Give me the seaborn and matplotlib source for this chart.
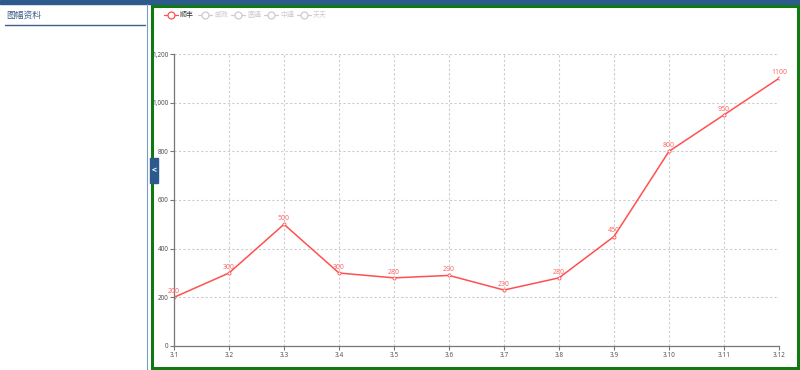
import matplotlib
matplotlib.use("Agg")
import matplotlib.pyplot as plt
import seaborn as sns
import pandas as pd
from matplotlib.lines import Line2D
from matplotlib.patches import Rectangle
from matplotlib.ticker import FuncFormatter

categories = ["3.1", "3.2", "3.3", "3.4", "3.5", "3.6", "3.7", "3.8", "3.9", "3.10", "3.11", "3.12"]
sf_values = [200, 300, 500, 300, 280, 290, 230, 280, 450, 800, 950, 1100]
legend_names = ["顺丰", "邮政", "圆通", "中通", "天天"]
y_ticks = [0, 200, 400, 600, 800, 1000, 1200]
sidebar_title = "图幅资料"

sns.set_theme(style="white")
plt.rcParams['font.family'] = ['Noto Sans CJK SC', 'DejaVu Sans']

RED = "#ff5050"
fig = plt.figure(figsize=(8, 3.7), dpi=100)
W, H = 800, 370

def fx(px):
    return px / W

def fy(py):
    return 1 - py / H

# page decorations
fig.patches.append(Rectangle((0, fy(4)), 1, 4 / H, transform=fig.transFigure,
                             color="#2d5a8c", zorder=-2))
fig.patches.append(Rectangle((fx(151.5), fy(367.5)), (797.5 - 151.5) / W, (367.5 - 5.5) / H,
                             transform=fig.transFigure, fill=False, edgecolor="#0f7a12",
                             linewidth=2.2, zorder=-1))
fig.lines.append(Line2D([fx(147), fx(147)], [fy(4), fy(370)], transform=fig.transFigure,
                        color="#7d9cc4", linewidth=0.8))
fig.text(fx(6), fy(15), sidebar_title, fontsize=6.3, color="#3f5f8a", va="center", ha="left")
fig.lines.append(Line2D([fx(5), fx(145)], [fy(24.5), fy(24.5)], transform=fig.transFigure,
                        color="#3f5f8a", linewidth=1.0))
# collapse button
fig.patches.append(Rectangle((fx(150), fy(183)), 8 / W, 25 / H, transform=fig.transFigure,
                             color="#2d5a8c", zorder=6))
fig.text(fx(154), fy(170.5), "<", fontsize=6, color="white", ha="center", va="center",
         zorder=7, fontweight="bold")

# legend
leg_x = [171, 205, 238, 271, 304]
for i, name in enumerate(legend_names):
    c = RED if i == 0 else "#cccccc"
    tc = "#333333" if i == 0 else "#cccccc"
    cx = leg_x[i]
    fig.lines.append(Line2D([fx(cx - 7), fx(cx + 7)], [fy(15), fy(15)], transform=fig.transFigure,
                            color=c, linewidth=0.9))
    fig.lines.append(Line2D([fx(cx)], [fy(15)], transform=fig.transFigure, marker="o",
                            markersize=5, markerfacecolor="white", markeredgecolor=c,
                            markeredgewidth=0.9, linestyle="none"))
    fig.text(fx(cx + 9), fy(15), name, fontsize=5, color=tc, va="center", ha="left")

# chart
ax = fig.add_axes([fx(174), fy(346), (779 - 174) / W, (346 - 54) / H])
df = pd.DataFrame({"day": categories, "value": sf_values})
df["pos"] = range(len(categories))
sns.lineplot(data=df, x="pos", y="value", ax=ax, color=RED, linewidth=1.1,
             marker="o", markersize=2.2, markerfacecolor="white", markeredgecolor=RED,
             markeredgewidth=0.6)
for x, v in zip(df["pos"], df["value"]):
    ax.annotate(str(v), (x, v), xytext=(0, 1.5), textcoords="offset points",
                ha="center", va="bottom", fontsize=5, color="#ff6b6b",
                family=["Noto Sans", "DejaVu Sans"])

ax.set_xlim(0, len(categories) - 1)
ax.set_ylim(0, 1200)
ax.set_xticks(df["pos"])
ax.set_xticklabels(categories)
ax.set_yticks(y_ticks)
ax.yaxis.set_major_formatter(FuncFormatter(lambda v, p: f"{int(v):,}"))
ax.set_xlabel("")
ax.set_ylabel("")
ax.grid(True, color="#cccccc", linestyle=(0, (2, 2)), linewidth=0.8)
ax.set_axisbelow(True)
for s in ["top", "right"]:
    ax.spines[s].set_visible(False)
for s in ["left", "bottom"]:
    ax.spines[s].set_color("#777777")
    ax.spines[s].set_linewidth(0.9)
ax.tick_params(axis="both", which="both", direction="out", length=3, width=0.8,
               color="#777777", labelsize=4.6, labelcolor="#555555", pad=1,
               left=True, bottom=True)
for lab in ax.get_xticklabels() + ax.get_yticklabels():
    lab.set_family(["Noto Sans", "DejaVu Sans"])
ax.set_facecolor("none")

fig.savefig("out.png", dpi=100)
